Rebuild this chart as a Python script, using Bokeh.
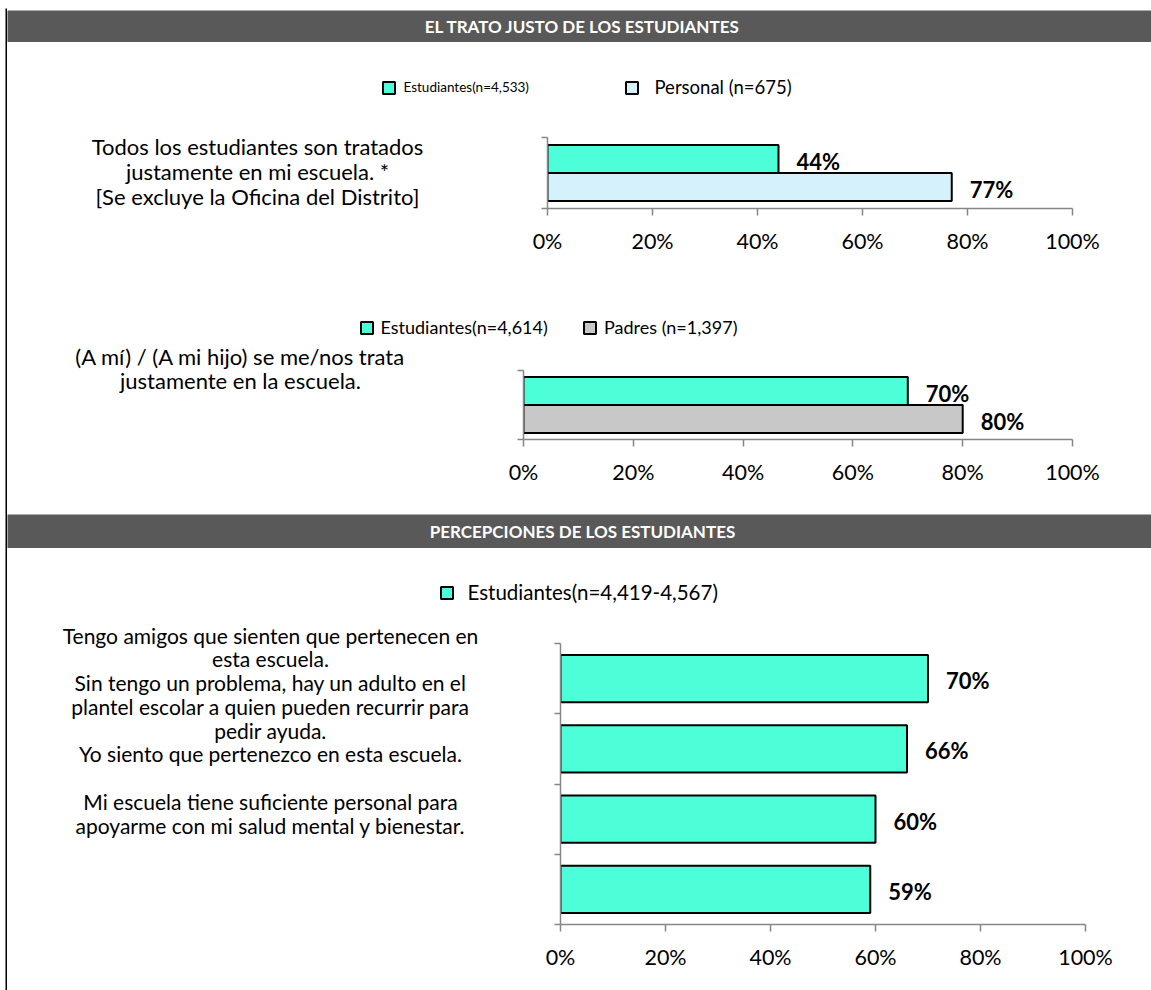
from bokeh.plotting import figure
from bokeh.models import Range1d, FixedTicker, Label, Legend, LegendItem
from bokeh.layouts import column, row
from bokeh.embed import file_html
from bokeh.resources import INLINE
from bokeh.core.properties import value

# ---------------- data ----------------
header1 = "EL TRATO JUSTO DE LOS ESTUDIANTES"
header2 = "PERCEPCIONES DE LOS ESTUDIANTES"

q1_question = "Todos los estudiantes son tratados\njustamente en mi escuela. *\n[Se excluye la Oficina del Distrito]"
q1_series = ["Estudiantes(n=4,533)", "Personal (n=675)"]
q1_values = [44, 77]

q2_question = "(A mí) / (A mi hijo) se me/nos trata\njustamente en la escuela."
q2_series = ["Estudiantes(n=4,614)", "Padres (n=1,397)"]
q2_values = [70, 80]

q3_series = "Estudiantes(n=4,419-4,567)"
q3_categories = [
    "Tengo amigos que sienten que pertenecen en\nesta escuela.",
    "Sin tengo un problema, hay un adulto en el\nplantel escolar a quien pueden recurrir para\npedir ayuda.",
    "Yo siento que pertenezco en esta escuela.",
    "Mi escuela tiene suficiente personal para\napoyarme con mi salud mental y bienestar.",
]
q3_values = [70, 66, 60, 59]

tick_values = [0, 20, 40, 60, 80, 100]
tick_labels = ["0%", "20%", "40%", "60%", "80%", "100%"]

# ---------------- styles ----------------
AQUA = "#4DFFD8"
LIGHTBLUE = "#D5F1FB"
GRAY = "#C8C8C8"
HEADER = "#595959"
AXIS = "#868686"
FONT = "Lato"
W = 1144


def base_fig(w, h, **kw):
    opts = dict(width=w, height=h, min_border=0, toolbar_location=None, tools="",
                output_backend="svg", outline_line_color=None,
                x_axis_location=None, y_axis_location=None,
                x_range=Range1d(0, w), y_range=Range1d(0, h))
    opts.update(kw)
    p = figure(**opts)
    p.grid.visible = False
    p.frame_align = False
    return p


def solid(w, h, color):
    return base_fig(w, h, background_fill_color=color, border_fill_color=color)


def stub_line():
    mid = base_fig(W - 32, 3, background_fill_color="white",
                   border_fill_color="black", min_border_top=1)
    return row(solid(13, 3, "black"), mid, solid(19, 3, "black"))


def header_fig(text, h):
    p = solid(W, h, HEADER)
    p.add_layout(Label(x=575, y=h / 2, text=text, text_align="center",
                       text_baseline="middle", text_color="white",
                       text_font=FONT, text_font_style="bold",
                       text_font_size="17px"))
    return p


def question_fig(w, h, text, cx, cy, size, lh):
    p = solid(w, h, "white")
    p.add_layout(Label(x=cx, y=cy, text=text, text_align="center",
                       text_baseline="middle", text_font=FONT,
                       text_font_size=size, text_line_height=lh,
                       text_color="black"))
    return p


def legend_strip(h, entries):
    # entries: (label, fill, x, y, font size, standoff)
    p = solid(W, h, "white")
    for label, fill, x, y, size, standoff in entries:
        # hidden swatch renderer: only its legend entry is shown
        r = p.hbar(y=[-1000], left=[0], right=[1], height=1, fill_color=fill,
                   line_color="black", line_width=2)
        r.visible = False
        leg = Legend(items=[LegendItem(label=label, renderers=[r])],
                     location=(x, y), orientation="horizontal",
                     glyph_width=15, glyph_height=15, label_standoff=standoff,
                     padding=0, margin=0, spacing=0, border_line_color=None,
                     background_fill_alpha=0, label_text_font=FONT,
                     label_text_color="black", click_policy="none",
                     label_text_font_size=size, label_height=18)
        p.add_layout(leg)
    return p


def chart_fig(w, h, left, fw, top, fh, ncat):
    p = figure(width=w, height=h, toolbar_location=None, tools="",
               output_backend="svg", x_range=Range1d(0, 100),
               y_range=Range1d(0, ncat), min_border_left=left,
               min_border_right=w - left - fw, min_border_top=top,
               min_border_bottom=h - top - fh, outline_line_color=None,
               background_fill_color="white", border_fill_color="white")
    p.frame_align = False
    p.grid.visible = False
    xa = p.xaxis[0]
    xa.ticker = FixedTicker(ticks=tick_values)
    xa.major_label_overrides = dict(zip(tick_values, tick_labels))
    xa.axis_line_color = AXIS
    xa.axis_line_width = 1.5
    xa.major_tick_line_color = AXIS
    xa.major_tick_line_width = 1.5
    xa.major_tick_out = 7
    xa.major_tick_in = 0
    xa.minor_tick_out = 0
    xa.minor_tick_in = 0
    xa.major_label_text_font = FONT
    xa.major_label_text_font_size = "21.5px"
    xa.major_label_text_color = "black"
    xa.major_label_standoff = 12
    ya = p.yaxis[0]
    ya.ticker = FixedTicker(ticks=[], minor_ticks=list(range(ncat + 1)))
    ya.axis_line_color = AXIS
    ya.axis_line_width = 1.5
    ya.major_tick_out = 0
    ya.major_tick_in = 0
    ya.minor_tick_line_color = AXIS
    ya.minor_tick_line_width = 1.5
    ya.minor_tick_out = 6
    ya.minor_tick_in = 0
    return p


def value_labels(p, xs, ys):
    p.text(x=xs, y=ys, text=[f"{v}%" for v in xs], x_offset=18, y_offset=2,
           text_align="left", text_baseline="middle",
           text_font=value(FONT), text_font_style="bold",
           text_font_size="22px", text_color="black")


# ---------------- panel 1 ----------------
strip1 = legend_strip(75, [
    (q1_series[0], AQUA, 373.5, 24, "13.5px", 8),
    (q1_series[1], LIGHTBLUE, 616.5, 22, "18.5px", 16),
])
c1 = chart_fig(631, 154, 27, 525, 17, 71, 1)
hb1 = 28 / 71
y1 = [0.5 + hb1 / 2, 0.5 - hb1 / 2]
c1.hbar(y=y1[:1], left=0, right=q1_values[:1], height=hb1,
        fill_color=AQUA, line_color="black", line_width=2)
c1.hbar(y=y1[1:], left=0, right=q1_values[1:], height=hb1,
        fill_color=LIGHTBLUE, line_color="black", line_width=2)
value_labels(c1, q1_values, y1)
qf1 = question_fig(513, 154, q1_question, 250, 103, "22px", 0.916)
panel1 = column(strip1, row(qf1, c1))

# ---------------- panel 2 ----------------
strip2 = legend_strip(62, [
    (q2_series[0], AQUA, 351.5, 0, "18px", 7),
    (q2_series[1], GRAY, 575, 0, "18px", 7),
])
c2 = chart_fig(651, 174, 23, 549, 32, 69, 1)
hb2 = 28 / 69
y2 = [0.5 + hb2 / 2, 0.5 - hb2 / 2]
c2.hbar(y=y2[:1], left=0, right=q2_values[:1], height=hb2,
        fill_color=AQUA, line_color="black", line_width=2)
c2.hbar(y=y2[1:], left=0, right=q2_values[1:], height=hb2,
        fill_color=GRAY, line_color="black", line_width=2)
value_labels(c2, q2_values, y2)
qf2 = question_fig(493, 174, q2_question, 233, 144, "22px", 0.916)
panel2 = column(strip2, row(qf2, c2))

# ---------------- panel 3 ----------------
n3 = len(q3_categories)
strip3 = legend_strip(55, [
    (q3_series, AQUA, 431.5, 2, "20.5px", 14),
])
c3 = chart_fig(621, 384, 30, 525, 37, 281, n3)
y3 = [n3 - i - 0.5 for i in range(n3)]
c3.hbar(y=y3, left=0, right=q3_values, height=0.67,
        fill_color=AQUA, line_color="black", line_width=2)
value_labels(c3, q3_values, y3)
q3_text = "\n".join(q3_categories[:3]) + "\n\n" + q3_categories[3]
qf3 = question_fig(523, 384, q3_text, 263, 260.5, "21px", 0.95)
panel3 = column(strip3, row(qf3, c3))

# ---------------- layout ----------------
col = column(
    solid(W, 2, "black"),
    header_fig(header1, 32),
    stub_line(),
    panel1,
    solid(W, 2, "black"),
    panel2,
    solid(W, 2, "black"),
    header_fig(header2, 34),
    stub_line(),
    panel3,
)
layout = column(solid(1151, 8, "white"),
                row(solid(5, 982, "white"), solid(2, 982, "black"), col))

open("out.html", "w").write(file_html(layout, INLINE))
